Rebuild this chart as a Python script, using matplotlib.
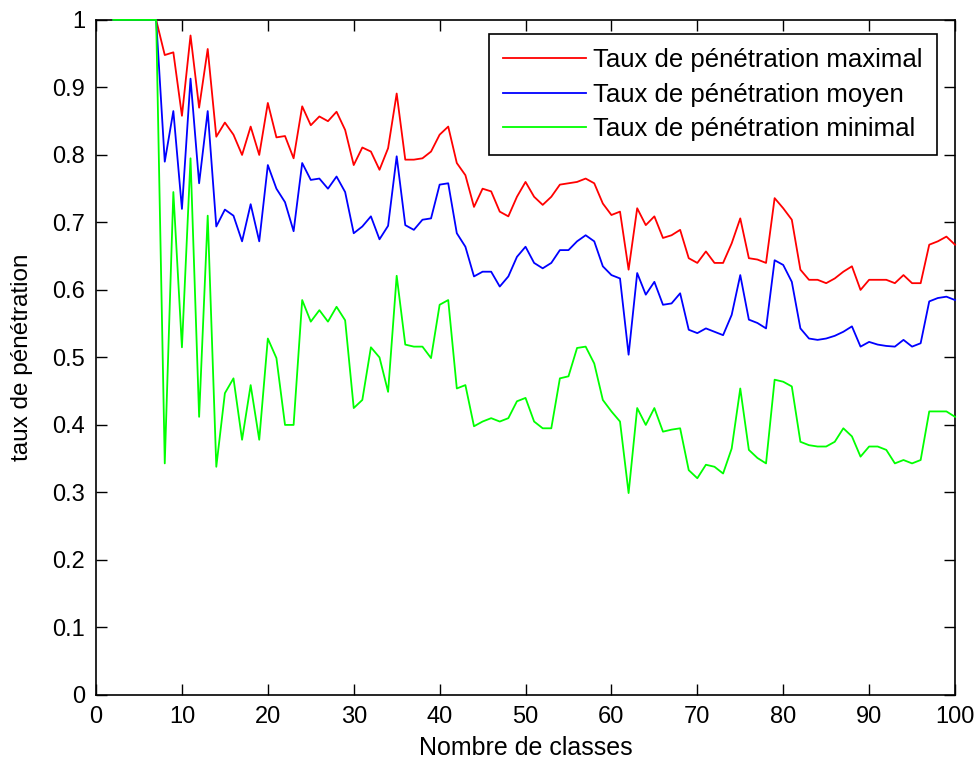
import numpy as np
import matplotlib
matplotlib.use("Agg")
import matplotlib.pyplot as plt

# number of classes (x) and penetration rates
classes = list(range(2, 101))

taux_max = [1.0, 1.0, 1.0, 1.0, 1.0, 1.0,
            0.948, 0.952, 0.858, 0.977, 0.87, 0.957, 0.827, 0.848, 0.83, 0.8,
            0.842, 0.8, 0.877, 0.826, 0.828, 0.795, 0.872, 0.844, 0.857, 0.85,
            0.864, 0.837, 0.785, 0.811, 0.805, 0.778, 0.81, 0.891, 0.793, 0.793,
            0.795, 0.805, 0.83, 0.842, 0.788, 0.77, 0.723, 0.75, 0.746, 0.716,
            0.709, 0.738, 0.76, 0.738, 0.726, 0.738, 0.756, 0.758, 0.76, 0.765,
            0.758, 0.728, 0.711, 0.716, 0.63, 0.721, 0.696, 0.709, 0.677, 0.681,
            0.689, 0.647, 0.64, 0.657, 0.64, 0.64, 0.669, 0.706, 0.647, 0.645,
            0.64, 0.736, 0.721, 0.704, 0.63, 0.615, 0.615, 0.61, 0.617, 0.627,
            0.635, 0.6, 0.615, 0.615, 0.615, 0.61, 0.622, 0.61, 0.61, 0.667,
            0.672, 0.679, 0.667]

taux_moy = [1.0, 1.0, 1.0, 1.0, 1.0, 1.0,
            0.79, 0.865, 0.72, 0.913, 0.758, 0.865, 0.694, 0.719, 0.71, 0.672,
            0.727, 0.672, 0.785, 0.75, 0.73, 0.687, 0.788, 0.763, 0.765, 0.75,
            0.768, 0.745, 0.684, 0.694, 0.709, 0.675, 0.695, 0.798, 0.696, 0.689,
            0.704, 0.706, 0.756, 0.758, 0.684, 0.664, 0.62, 0.627, 0.627, 0.605,
            0.62, 0.649, 0.664, 0.64, 0.632, 0.64, 0.659, 0.659, 0.672, 0.681,
            0.672, 0.635, 0.622, 0.617, 0.504, 0.625, 0.593, 0.612, 0.578, 0.58,
            0.595, 0.541, 0.536, 0.543, 0.538, 0.533, 0.563, 0.622, 0.556, 0.551,
            0.543, 0.644, 0.637, 0.612, 0.543, 0.528, 0.526, 0.528, 0.532, 0.538,
            0.546, 0.516, 0.523, 0.519, 0.517, 0.516, 0.526, 0.516, 0.521, 0.583,
            0.588, 0.59, 0.585]

taux_min = [1.0, 1.0, 1.0, 1.0, 1.0, 1.0,
            0.343, 0.745, 0.515, 0.795, 0.412, 0.71, 0.338, 0.447, 0.469, 0.378,
            0.459, 0.378, 0.528, 0.499, 0.4, 0.4, 0.585, 0.553, 0.57, 0.553,
            0.575, 0.555, 0.425, 0.437, 0.515, 0.5, 0.449, 0.621, 0.519, 0.516,
            0.516, 0.499, 0.578, 0.585, 0.454, 0.459, 0.398, 0.405, 0.41, 0.405,
            0.41, 0.435, 0.44, 0.405, 0.395, 0.395, 0.469, 0.472, 0.514, 0.516,
            0.491, 0.437, 0.42, 0.405, 0.299, 0.425, 0.4, 0.425, 0.39, 0.393,
            0.395, 0.333, 0.321, 0.341, 0.338, 0.328, 0.365, 0.454, 0.363, 0.351,
            0.343, 0.467, 0.464, 0.457, 0.375, 0.37, 0.368, 0.368, 0.375, 0.395,
            0.383, 0.353, 0.368, 0.368, 0.363, 0.343, 0.348, 0.343, 0.348, 0.42,
            0.42, 0.42, 0.412]

labels = ["Taux de pénétration maximal",
          "Taux de pénétration moyen",
          "Taux de pénétration minimal"]

plt.rcParams['font.family'] = ['Liberation Sans', 'DejaVu Sans']

fig = plt.figure(figsize=(9.8, 7.67), dpi=100)
ax = fig.add_axes([0.098, 0.094, 0.8765, 0.88])

# lines above the spines so the y=1 plateau shows over the top border
ax.plot(classes, taux_max, color='#ff0000', lw=1.3, label=labels[0], zorder=3, clip_on=False)
ax.plot(classes, taux_moy, color='#0000ff', lw=1.3, label=labels[1], zorder=3, clip_on=False)
ax.plot(classes, taux_min, color='#00ff00', lw=1.3, label=labels[2], zorder=3, clip_on=False)

ax.set_xlim(0, 100)
ax.set_ylim(0, 1)
ax.set_xticks(np.arange(0, 101, 10))
ax.set_yticks(np.arange(0, 1.01, 0.1))
ax.set_yticklabels(['0', '0.1', '0.2', '0.3', '0.4', '0.5', '0.6', '0.7', '0.8', '0.9', '1'])
ax.tick_params(direction='in', top=True, right=True, length=8, width=1, labelsize=17, pad=8)
for s in ax.spines.values():
    s.set_linewidth(1.2)

ax.set_xlabel('Nombre de classes', fontsize=18, labelpad=6)
ax.set_ylabel('taux de pénétration', fontsize=17.5, labelpad=14)

leg = ax.legend(loc='upper right', bbox_to_anchor=(0.979, 0.979), fancybox=False,
                edgecolor='black', framealpha=1, handlelength=3.2, handletextpad=0.3,
                fontsize=18.5, borderpad=0.55, labelspacing=0.4, borderaxespad=0)
leg.get_frame().set_linewidth(1.2)

fig.savefig('out.png', dpi=100)
